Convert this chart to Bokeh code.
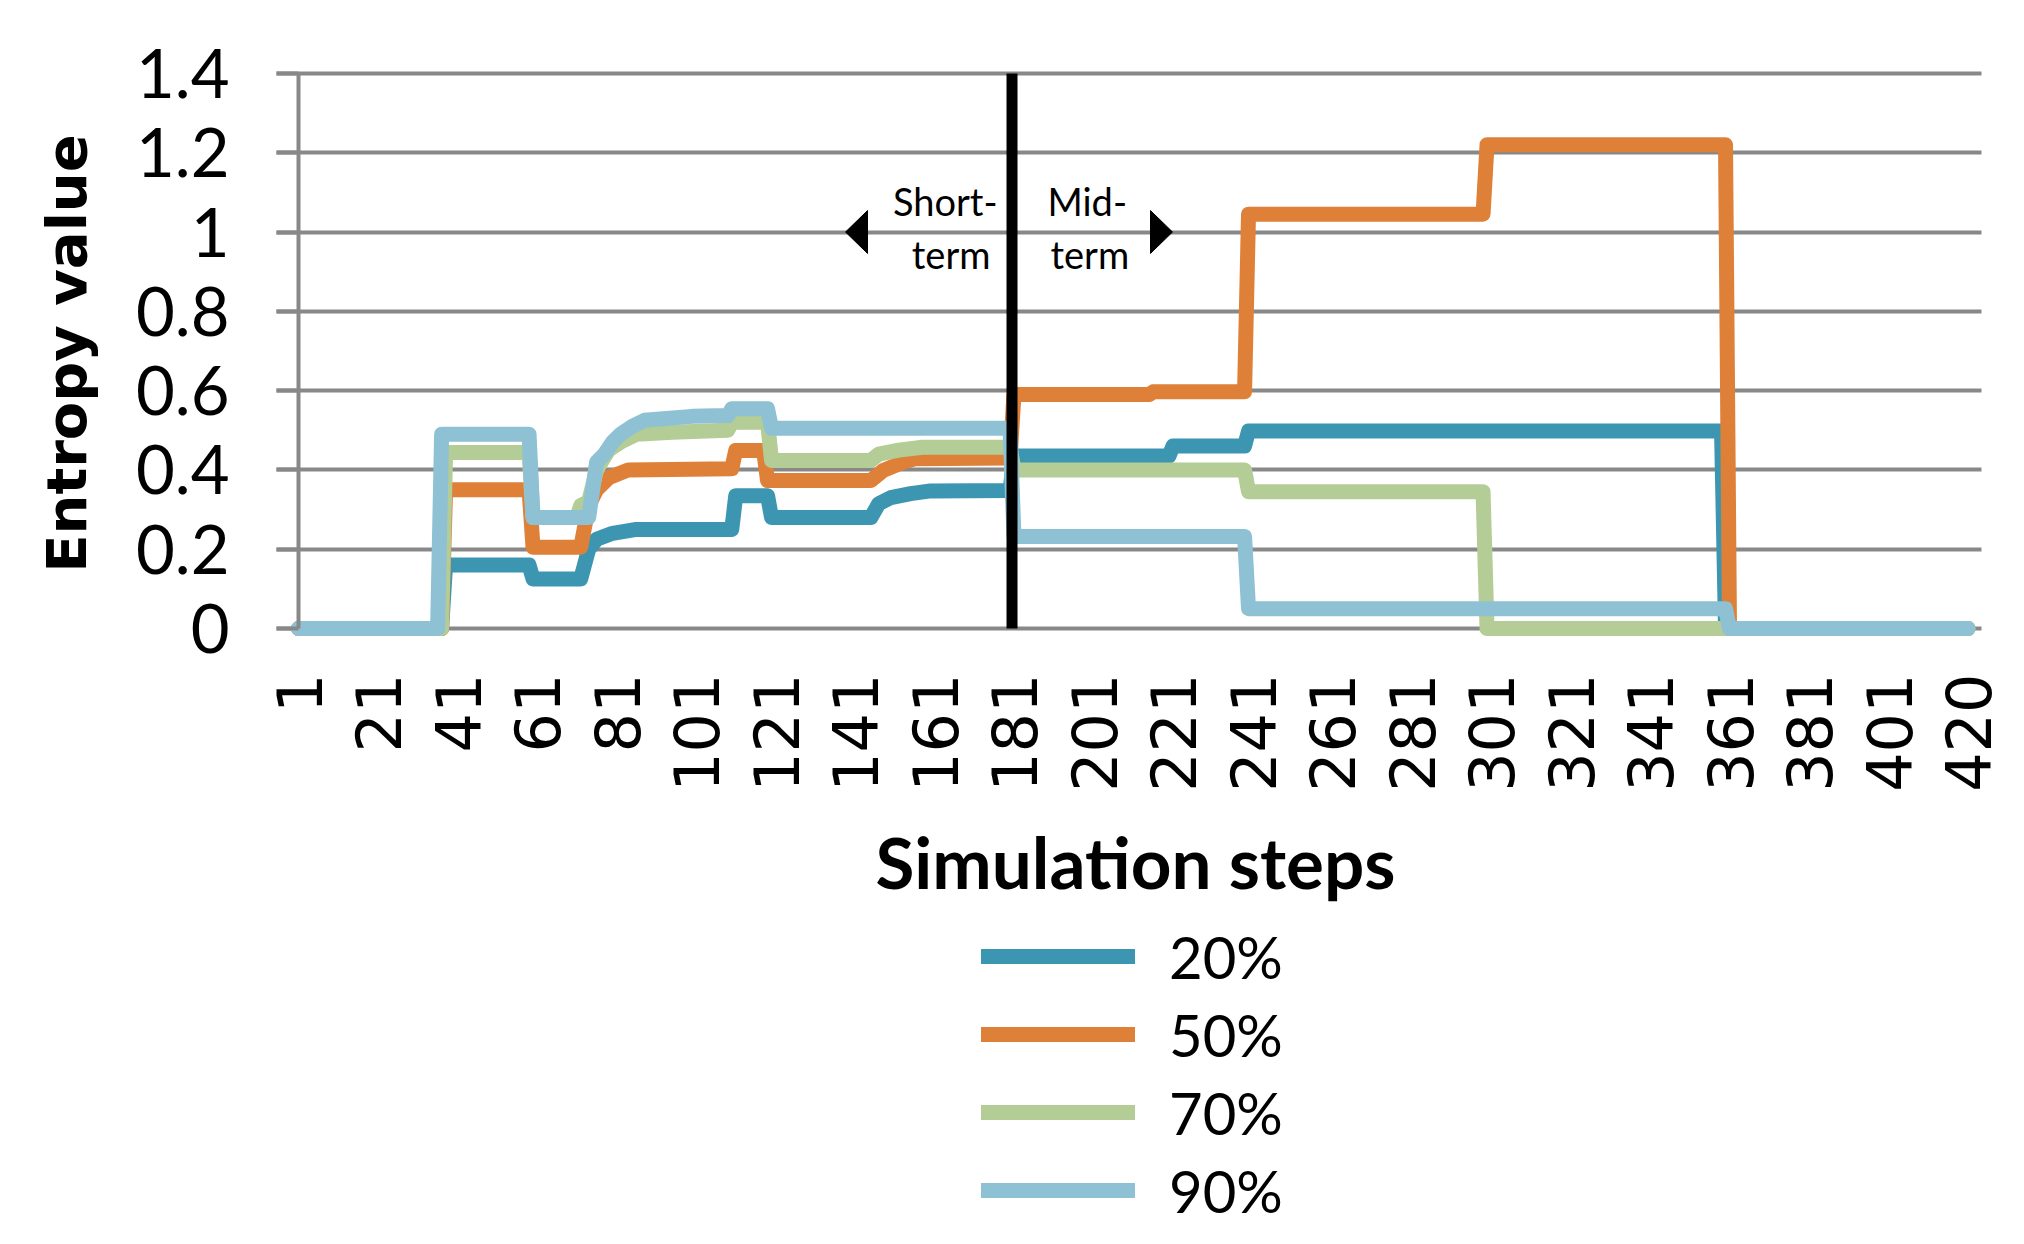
import math
from bokeh.plotting import figure
from bokeh.models import Range1d, FixedTicker, Label, Legend, LegendItem
from bokeh.embed import file_html
from bokeh.resources import INLINE

# ---------------- data ----------------
x_tick_steps = [1, 21, 41, 61, 81, 101, 121, 141, 161, 181, 201, 221, 241, 261,
                281, 301, 321, 341, 361, 381, 401, 421]
x_tick_labels = ["1", "21", "41", "61", "81", "101", "121", "141", "161", "181",
                 "201", "221", "241", "261", "281", "301", "321", "341", "361",
                 "381", "401", "420"]
y_ticks = [0, 0.2, 0.4, 0.6, 0.8, 1, 1.2, 1.4]
y_tick_labels = ["0", "0.2", "0.4", "0.6", "0.8", "1", "1.2", "1.4"]

series_names = ["20%", "50%", "70%", "90%"]
series_colors = ["#3C96B1", "#DE8038", "#B4CC95", "#8EC1D3"]

steps_20 = [1, 37, 38, 59, 60, 72, 74, 76, 80, 86, 110, 111, 119, 120, 145, 147,
            150, 155, 160, 180, 181, 220, 221, 239, 240, 359, 360, 421]
vals_20 = [0, 0, 0.16, 0.16, 0.125, 0.125, 0.2, 0.225, 0.24, 0.25, 0.25, 0.335,
           0.335, 0.28, 0.28, 0.315, 0.33, 0.34, 0.347, 0.348, 0.435, 0.435,
           0.46, 0.46, 0.498, 0.498, 0, 0]

steps_50 = [1, 37, 38, 59, 60, 72, 74, 76, 79, 84, 110, 111, 118, 119, 145, 148,
            153, 156, 180, 181, 215, 216, 239, 240, 299, 300, 360, 361, 421]
vals_50 = [0, 0, 0.35, 0.35, 0.205, 0.205, 0.31, 0.35, 0.38, 0.40, 0.403, 0.449,
           0.449, 0.373, 0.373, 0.398, 0.419, 0.428, 0.43, 0.59, 0.59, 0.597,
           0.597, 1.045, 1.045, 1.22, 1.22, 0, 0]

steps_70 = [1, 37, 38, 59, 60, 71, 72, 74, 76, 79, 82, 86, 95, 109, 110, 119, 120,
            145, 147, 152, 158, 180, 181, 239, 240, 299, 300, 421]
vals_70 = [0, 0, 0.444, 0.444, 0.28, 0.28, 0.31, 0.32, 0.40, 0.45, 0.47, 0.49,
           0.495, 0.5, 0.52, 0.52, 0.424, 0.424, 0.44, 0.45, 0.457, 0.457, 0.40,
           0.40, 0.345, 0.345, 0, 0]

steps_90 = [1, 36, 37, 59, 60, 74, 75, 76, 78, 80, 82, 85, 88, 100, 109, 110,
            119, 120, 180, 181, 239, 240, 360, 361, 421]
vals_90 = [0, 0, 0.49, 0.49, 0.28, 0.28, 0.35, 0.42, 0.44, 0.47, 0.49, 0.51,
           0.525, 0.535, 0.537, 0.554, 0.554, 0.505, 0.505, 0.232, 0.232, 0.05,
           0.05, 0, 0]

series_steps = [steps_20, steps_50, steps_70, steps_90]
series_vals = [vals_20, vals_50, vals_70, vals_90]

divider_step = 180.5

# ---------------- layout constants (page pixels) ----------------
W, H = 2016, 1236
PX_PER_STEP = 3.975
PX_PER_UNIT = 396.5
AXIS_X = 298          # page x of step 1 (y axis line)
GRID_RIGHT = 1981     # page x where grid lines end
FRAME_L, FRAME_R = 20, 2010
TOP = 20
ZERO_Y = 628.0        # page y of value 0
Y_TOP = (ZERO_Y - TOP) / PX_PER_UNIT
Y_BOTTOM = Y_TOP - (H - TOP) / PX_PER_UNIT
GRID = "#888888"


def sx(px):
    """page x pixel -> step coordinate"""
    return 1 + (px - AXIS_X) / PX_PER_STEP


def sy(py):
    """page y pixel -> value coordinate"""
    return (ZERO_Y - py) / PX_PER_UNIT


p = figure(width=W, height=H, output_backend="svg", toolbar_location=None,
           x_range=Range1d(sx(FRAME_L), sx(FRAME_R)),
           y_range=Range1d(Y_BOTTOM, Y_TOP),
           min_border_left=FRAME_L, min_border_right=W - FRAME_R,
           min_border_top=TOP, min_border_bottom=0)
p.outline_line_color = None
p.background_fill_color = "white"
p.border_fill_color = "white"

p.xgrid.visible = False
p.ygrid.ticker = FixedTicker(ticks=y_ticks)
p.ygrid.grid_line_color = GRID
p.ygrid.grid_line_width = 4
p.ygrid.cross_bounds = (sx(AXIS_X - 22), sx(GRID_RIGHT))

ya = p.yaxis[0]
ya.fixed_location = 1
ya.ticker = FixedTicker(ticks=y_ticks)
ya.major_label_overrides = dict(zip(y_ticks, y_tick_labels))
ya.bounds = (0, 1.4)
ya.axis_line_color = GRID
ya.axis_line_width = 4
ya.major_tick_out = 22
ya.major_tick_in = 0
ya.major_tick_line_color = GRID
ya.major_tick_line_width = 4
ya.minor_tick_line_color = None
ya.major_label_text_font = "Lato"
ya.major_label_text_font_size = "67px"
ya.major_label_text_color = "black"
ya.major_label_standoff = 47

xa = p.xaxis[0]
xa.fixed_location = 0
xa.ticker = FixedTicker(ticks=x_tick_steps)
xa.major_label_overrides = dict(zip(x_tick_steps, x_tick_labels))
xa.major_label_orientation = math.pi / 2
xa.axis_line_color = None
xa.major_tick_line_color = None
xa.minor_tick_line_color = None
xa.major_tick_out = 0
xa.major_tick_in = 0
xa.major_label_text_font = "DejaVu Sans"
xa.major_label_text_font_size = "62px"
xa.major_label_text_color = "black"
xa.major_label_standoff = 45

renderers = []
for st, vl, col in zip(series_steps, series_vals, series_colors):
    r = p.line(st, vl, line_color=col, line_width=15,
               line_join="round", line_cap="round")
    renderers.append(r)

p.segment(x0=[divider_step], y0=[0], x1=[divider_step], y1=[1.4],
          line_color="black", line_width=11)

# arrow heads on the 1.0 grid line
p.patch([sx(845), sx(867), sx(867)], [1.0, 1.054, 0.946],
        fill_color="black", line_color="black")
p.patch([sx(1172), sx(1150), sx(1150)], [1.0, 1.054, 0.946],
        fill_color="black", line_color="black")


def text_at(px, baseline_py, text, align, font, size, style="normal",
            angle=0.0, mid_ratio=0.387):
    # place with middle baseline: middle of the font box lies mid_ratio*size
    # above the alphabetic baseline
    if angle == 0.0:
        x, y = sx(px), sy(baseline_py - mid_ratio * size)
    else:
        x, y = sx(px - mid_ratio * size), sy(baseline_py)
    p.add_layout(Label(x=x, y=y, text=text, text_align=align,
                       text_baseline="middle", text_font=font,
                       text_font_size=f"{size}px", text_font_style=style,
                       text_color="black", angle=angle))


text_at(997, 215, "Short-", "right", "Lato", 38)
text_at(990, 268, "term", "right", "Lato", 38)
text_at(1047, 215, "Mid-", "left", "Lato", 38)
text_at(1050, 268, "term", "left", "Lato", 38)

text_at(1135, 888, "Simulation steps", "center", "Lato", 71, style="bold")
text_at(85, 353, "Entropy value", "center", "DejaVu Sans", 56, style="bold",
        angle=math.pi / 2, mid_ratio=0.346)

legend = Legend(items=[LegendItem(label=n, renderers=[r])
                       for n, r in zip(series_names, renderers)],
                location=(683 + AXIS_X - FRAME_L, 7), orientation="vertical")
legend.glyph_width = 154
legend.glyph_height = 78
legend.label_height = 78
legend.spacing = 0
legend.padding = 0
legend.margin = 0
legend.label_standoff = 34
legend.label_text_font = "Lato"
legend.label_text_font_size = "58px"
legend.label_text_color = "black"
legend.border_line_color = None
legend.background_fill_alpha = 0
p.add_layout(legend)

open("out.html", "w").write(file_html(p, INLINE))
